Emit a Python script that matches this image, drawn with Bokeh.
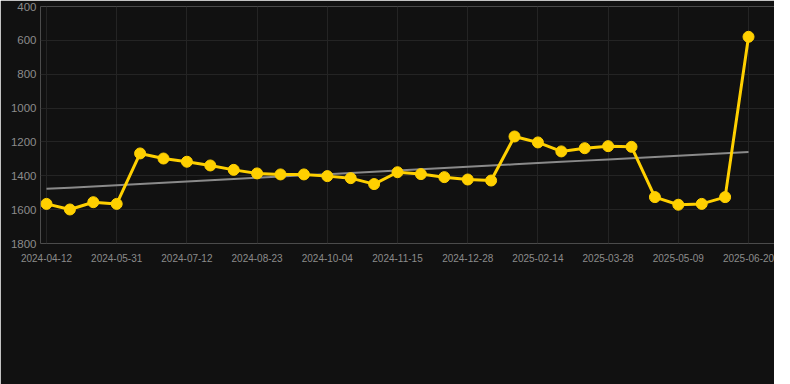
from bokeh.plotting import figure
from bokeh.models import Range1d, FixedTicker, Legend, LegendItem, ColumnDataSource
from bokeh.embed import file_html
from bokeh.resources import INLINE
import numpy as np

# ---- data ----
dates = [
    "2024-04-12", "2024-04-26", "2024-05-17", "2024-05-31", "2024-06-14", "2024-06-28",
    "2024-07-12", "2024-07-26", "2024-08-09", "2024-08-23", "2024-09-06", "2024-09-20",
    "2024-10-04", "2024-10-18", "2024-11-01", "2024-11-15", "2024-11-29", "2024-12-13",
    "2024-12-28", "2025-01-11", "2025-01-31", "2025-02-14", "2025-02-28", "2025-03-14",
    "2025-03-28", "2025-04-11", "2025-04-25", "2025-05-09", "2025-05-23", "2025-06-06",
    "2025-06-20",
]
rank = [
    1566, 1599, 1556, 1566, 1268, 1298, 1317, 1339, 1365, 1386, 1392, 1392,
    1402, 1414, 1449, 1379, 1390, 1408, 1422, 1428, 1168, 1203, 1256, 1237,
    1225, 1229, 1526, 1571, 1566, 1526, 579,
]
series_name = "SlotRank US-NJ"
y_ticks = [400, 600, 800, 1000, 1200, 1400, 1600, 1800]
label_step = 3

# ---- derived ----
idx = list(range(len(dates)))
slope, intercept = np.polyfit(idx, rank, 1)
trend = [slope * i + intercept for i in idx]
src = ColumnDataSource(dict(x=idx, y=rank, trend=trend))
tick_pos = idx[::label_step]

BG = "#111111"
GOLD = "#ffd000"
GRID = "#242424"

p = figure(frame_width=734, frame_height=237, output_backend="svg", toolbar_location=None,
           x_range=Range1d(-0.256, 31.11), y_range=Range1d(max(y_ticks), min(y_ticks)),
           min_border_left=40, min_border_right=0, min_border_top=6, min_border_bottom=0)
p.background_fill_color = BG
p.border_fill_color = BG
p.outline_line_color = None

# trend line
p.line("x", "trend", source=src, line_color="#8a8a8a", line_width=2)
# series
p.line("x", "y", source=src, line_color=GOLD, line_width=3)
p.scatter("x", "y", source=src, size=11, fill_color=GOLD, line_color=GOLD)

# legend swatch renderer (one empty row, draws nothing in the plot)
nan = float("nan")
sw = p.quad(left=[nan], right=[nan], top=[nan], bottom=[nan],
            fill_color=GOLD, line_color=GOLD)

# axes
p.xaxis.ticker = FixedTicker(ticks=tick_pos)
p.xaxis.major_label_overrides = {i: dates[i] for i in tick_pos}
p.yaxis.ticker = FixedTicker(ticks=y_ticks)

for ax in (p.xaxis[0], p.yaxis[0]):
    ax.axis_line_color = None
    ax.major_tick_line_color = None
    ax.minor_tick_line_color = None
    ax.major_tick_out = 0
    ax.major_tick_in = 0
    ax.major_label_text_color = "#8c8c8c"
    ax.major_label_text_font = "Liberation Sans"

p.xaxis.major_label_text_font_size = "10px"
p.xaxis.major_label_standoff = 10
p.yaxis.major_label_text_font_size = "11.5px"
p.yaxis.major_label_standoff = 4

p.xgrid.ticker = FixedTicker(ticks=tick_pos)
p.ygrid.ticker = FixedTicker(ticks=y_ticks)
p.grid.grid_line_color = GRID
p.grid.grid_line_width = 1

legend = Legend(items=[LegendItem(label=series_name, renderers=[sw])],
                orientation="horizontal", location=(283, 0),
                glyph_width=40, glyph_height=11,
                label_text_color="#dddddd", label_text_font="Liberation Sans",
                label_text_font_size="12.5px",
                background_fill_alpha=0,
                border_line_color=None, padding=0, margin=10, spacing=0,
                label_standoff=6)
p.add_layout(legend, "below")

open("out.html", "w").write(file_html(p, INLINE))
